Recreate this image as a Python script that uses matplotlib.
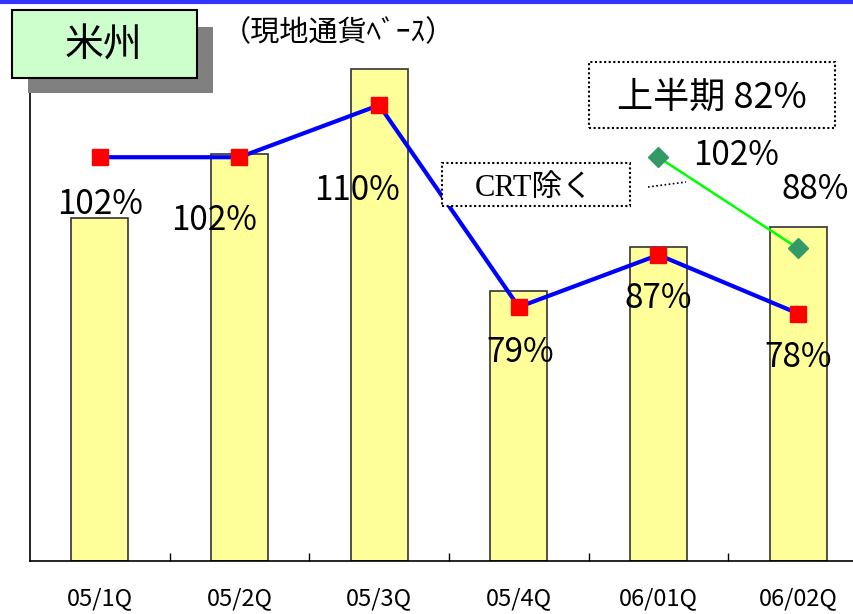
import matplotlib
matplotlib.use("Agg")
import matplotlib.pyplot as plt
import numpy as np
from matplotlib.patches import Rectangle
from matplotlib.lines import Line2D

# data
quarters = ["05/1Q", "05/2Q", "05/3Q", "05/4Q", "06/01Q", "06/02Q"]
bar_values = [395, 469, 567, 311, 362, 385]          # sales volume (no axis shown)
pct_values = [102, 102, 110, 79, 87, 78]             # growth rate, local currency
pct_ex_crt = [np.nan, np.nan, np.nan, np.nan, 102, 88]  # excluding CRT
pct_labels = ["102%", "102%", "110%", "79%", "87%", "78%"]
ex_crt_labels = ["102%", "88%"]
title = "米州"
subtitle = "（現地通貨ﾍﾞｰｽ）"
half_year_note = "上半期 82%"
crt_note = "CRT除く"

jp = "Noto Sans CJK JP"
serif = "Liberation Serif"
plt.rcParams["font.family"] = [jp, "DejaVu Sans"]

fig = plt.figure(figsize=(8.54, 6.14), dpi=100)
W, H = 854, 614


def fx(px):
    return px / W


def fy(py):
    return 1 - py / H


ax = fig.add_axes([fx(30), fy(561), fx(868) - fx(30), fy(40) - fy(561)])
x = np.arange(len(quarters))
ax.bar(x, bar_values, width=0.41, color="#FFFF99", edgecolor="#333333", linewidth=1.2, zorder=2)
ax.set_xlim(-0.5, 5.5)
ax.set_ylim(0, 600)
for s in ["top", "right"]:
    ax.spines[s].set_visible(False)
ax.spines["left"].set_linewidth(1.2)
ax.spines["bottom"].set_linewidth(1.2)
ax.set_yticks([])
ax.set_xticks(np.arange(0.5, 5.5, 1.0))
ax.set_xticklabels([])
ax.tick_params(axis="x", which="major", direction="in", length=6, width=1)
ax.set_xticks(x, minor=True)
ax.set_xticklabels(quarters, minor=True, fontsize=17)
ax.tick_params(axis="x", which="minor", length=0, pad=19)

ax2 = ax.twinx()
ax2.set_ylim(40, 120)
ax2.axis("off")
ax2.plot(x, pct_values, color="#0000FF", linewidth=3, marker="s", markersize=12,
         markerfacecolor="#FF0000", markeredgecolor="#FF0000", zorder=3)
ax2.plot(x, pct_ex_crt, color="#00FF00", linewidth=1.8, marker="D", markersize=10,
         markerfacecolor="#339966", markeredgecolor="#339966", zorder=3)

offsets = [(0, -47), (-25, -63), (-22, -85), (1, -45), (0, -44), (0, -44)]
for i, (lab, off) in enumerate(zip(pct_labels, offsets)):
    ax2.annotate(lab, xy=(i, pct_values[i]), xytext=off, textcoords="offset pixels",
                 ha="center", va="center", fontsize=24, zorder=4)

ex_idx = [i for i, v in enumerate(pct_ex_crt) if not np.isnan(v)]
for i, lab, off in zip(ex_idx, ex_crt_labels, [(78, 2), (17, 59)]):
    ax2.annotate(lab, xy=(i, pct_ex_crt[i]), xytext=off, textcoords="offset pixels",
                 ha="center", va="center", fontsize=24, zorder=4)

# top blue rule
fig.add_artist(Line2D([0, 1], [fy(1.5), fy(1.5)], color="#3333FF", linewidth=3))

# title box with shadow
fig.add_artist(Rectangle((fx(28), fy(93)), fx(213) - fx(28), fy(27) - fy(93),
                         facecolor="#808080", edgecolor="none", zorder=5))
fig.add_artist(Rectangle((fx(12), fy(78)), fx(197) - fx(12), fy(10) - fy(78),
                         facecolor="#CCFFCC", edgecolor="black", linewidth=1.5, zorder=6))
fig.text(fx(104), fy(46), title, ha="center", va="center", fontsize=28, zorder=7)
fig.text(fx(222), fy(33), subtitle, ha="left", va="center", fontsize=21, zorder=7)

# dotted note boxes
fig.add_artist(Rectangle((fx(589), fy(128)), fx(835) - fx(589), fy(62) - fy(128),
                         facecolor="white", edgecolor="black", linewidth=1.5,
                         linestyle=(0, (1, 1.2)), zorder=6))
fig.text(fx(712), fy(98), half_year_note, ha="center", va="center", fontsize=26, zorder=7)

fig.add_artist(Rectangle((fx(442), fy(206)), fx(630) - fx(442), fy(163) - fy(206),
                         facecolor="white", edgecolor="black", linewidth=1.5,
                         linestyle=(0, (1, 1.2)), zorder=6))
fig.text(fx(534), fy(188), crt_note, ha="center", va="center", fontsize=22,
         family=[serif, jp], zorder=7)
fig.add_artist(Line2D([fx(648), fx(686)], [fy(187), fy(182)], color="black",
                      linewidth=1.2, linestyle=(0, (1, 1.5)), zorder=6))

fig.savefig("out.png", dpi=100)
